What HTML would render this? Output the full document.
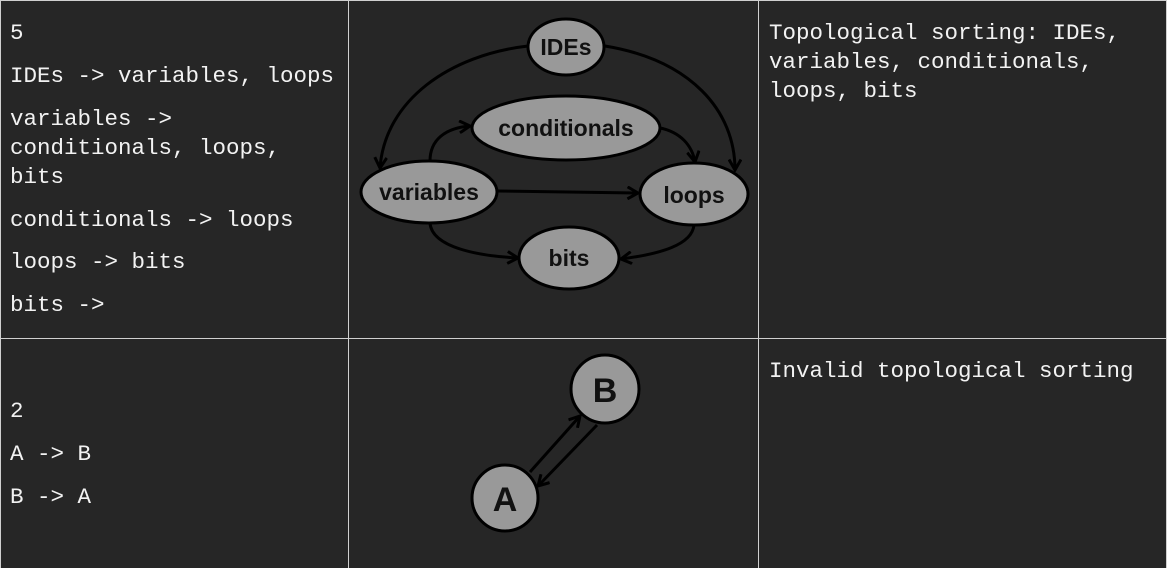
<!DOCTYPE html>
<html><head><meta charset="utf-8"><style>
html,body{margin:0;padding:0;background:#262626;}
body{width:1167px;height:568px;overflow:hidden;}
svg{display:block}
.m{font-family:"Liberation Mono",monospace;font-size:22.5px;fill:#f2f2f2;}
.n{font-family:"Liberation Sans",sans-serif;font-weight:bold;fill:#111;text-anchor:middle;}
</style></head><body>
<svg width="1167" height="568" viewBox="0 0 1167 568" xmlns="http://www.w3.org/2000/svg">
<defs>
<marker id="a" markerWidth="14" markerHeight="14" refX="12" refY="7" orient="auto" markerUnits="userSpaceOnUse" viewBox="0 0 14 14">
<path d="M1.5,1 L12,7 L1.5,13" fill="none" stroke="#000" stroke-width="3"/>
</marker>
</defs>
<rect width="1167" height="568" fill="#262626"/>
<g stroke="#d0d0d0" stroke-width="1">
<line x1="0" y1="0.5" x2="1167" y2="0.5"/>
<line x1="0.5" y1="0" x2="0.5" y2="568"/>
<line x1="348.5" y1="0" x2="348.5" y2="568"/>
<line x1="758.5" y1="0" x2="758.5" y2="568"/>
<line x1="0" y1="338.5" x2="1167" y2="338.5"/>
<line x1="1166.5" y1="0" x2="1166.5" y2="568"/>
</g>
<g class="m">
<text x="10" y="39">5</text>
<text x="10" y="82">IDEs -&gt; variables, loops</text>
<text x="10" y="125">variables -&gt;</text>
<text x="10" y="154">conditionals, loops,</text>
<text x="10" y="183">bits</text>
<text x="10" y="226">conditionals -&gt; loops</text>
<text x="10" y="268">loops -&gt; bits</text>
<text x="10" y="311">bits -&gt;</text>
<text x="769" y="39">Topological sorting: IDEs,</text>
<text x="769" y="68">variables, conditionals,</text>
<text x="769" y="97">loops, bits</text>
<text x="10" y="417">2</text>
<text x="10" y="460">A -&gt; B</text>
<text x="10" y="503">B -&gt; A</text>
<text x="769" y="377">Invalid topological sorting</text>
</g>
<g fill="none" stroke="#000" stroke-width="3" marker-end="url(#a)">
<path d="M528,46 C450,55 385,100 380,168"/>
<path d="M605,46 C690,60 735,110 735,170"/>
<path d="M430,161 C430,140 445,128 470,126"/>
<path d="M660,128 C680,132 692,145 695,162"/>
<path d="M498,191 L638,193"/>
<path d="M430,223 C432,248 480,256 518,258"/>
<path d="M694,225 C692,245 660,254 621,259"/>
<path d="M530,472 L580,416"/>
<path d="M597,425 L538,486"/>
</g>
<g fill="#999" stroke="#000" stroke-width="3">
<ellipse cx="566" cy="47" rx="38" ry="28"/>
<ellipse cx="566" cy="128" rx="94" ry="32"/>
<ellipse cx="429" cy="192" rx="68" ry="31"/>
<ellipse cx="694" cy="194" rx="54" ry="31"/>
<ellipse cx="569" cy="258" rx="50" ry="31"/>
<circle cx="605" cy="389" r="34"/>
<circle cx="505" cy="498" r="33"/>
</g>
<g class="n" font-size="23">
<text x="566" y="55">IDEs</text>
<text x="566" y="136">conditionals</text>
<text x="429" y="200">variables</text>
<text x="694" y="203">loops</text>
<text x="569" y="266">bits</text>
</g>
<g class="n" font-size="34">
<text x="605" y="402">B</text>
<text x="505" y="511">A</text>
</g>
</svg>
</body></html>
